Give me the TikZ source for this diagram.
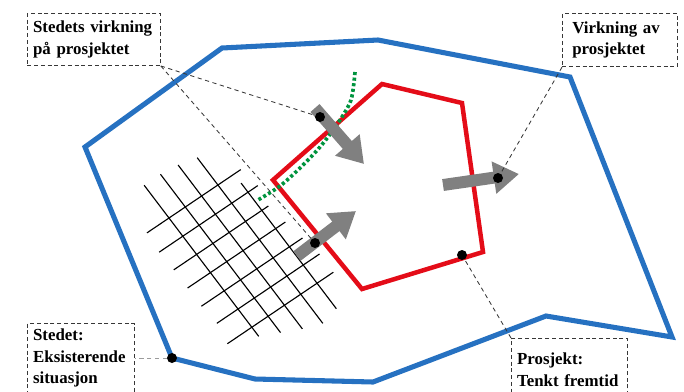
\documentclass[tikz,border=0pt]{standalone}
\usepackage{fontspec}
\setmainfont{Liberation Serif}
\usetikzlibrary{arrows.meta,calc}

\definecolor{siteblue}{RGB}{38,113,193}
\definecolor{projred}{RGB}{228,12,24}
\definecolor{edgegreen}{RGB}{0,148,62}
\definecolor{effectgray}{RGB}{128,128,128}
\definecolor{framegray}{RGB}{55,55,55}

\tikzset{
	labelbox/.style={draw=framegray, dash pattern=on 2.8pt off 2pt, line width=0.7pt,
		anchor=north west, align=left, inner xsep=4pt, inner ysep=4pt,
		font=\fontsize{12}{15.3}\selectfont\bfseries},
	leader/.style={framegray, line width=0.6pt, dash pattern=on 3pt off 2.5pt},
	effect/.style={effectgray, line width=8.5pt, -{Triangle[width=22pt,length=18pt]}},
	pin/.style={circle, fill=black, inner sep=0pt, minimum size=0.25cm},
	siteline/.style={siteblue, line width=3.6pt},
	projline/.style={projred, line width=3.2pt},
	gridline/.style={black, line width=0.8pt},
}

\begin{document}
\begin{tikzpicture}[x=0.025cm, y=-0.025cm]
	\useasboundingbox (0,0) rectangle (684,391);

	% Existing street grid (rotated, uneven ends)
	\begin{scope}[shift={(169,218)}, x={(0.4075cm,0.275cm)}, y={(0.345cm,-0.455cm)}]
		\foreach \i/\sa/\sb in {0/-1.8/6.5, 1/-1.8/6.9, 2/-1.7/7.3, 3/-1.5/7.6, 4/0.5/7.4} {
			\draw[gridline] (\i,\sa) -- (\i,\sb);
		}
		\foreach \j/\ta/\tb in {0/-1.35/4.4, 1/-1.45/4.6, 2/-1.4/4.4, 3/-1.4/4.6, 4/-1.4/4.8, 5/-1.3/5.0, 6/-1.5/5.0} {
			\draw[gridline] (\ta,\j) -- (\tb,\j);
		}
	\end{scope}

	% Site boundary
	\draw[siteline] (85,147) -- (222,48) -- (378,40) -- (570,77) -- (672,337) -- (546,316)
		-- (373,382) -- (255,379) -- (172,358) -- cycle;

	% Project boundary
	\draw[projline] (273,180) -- (382,84) -- (462,103) -- (483,252) -- (362,289) -- cycle;

	% Edge of influence
	\draw[edgegreen, line width=2.6pt, dash pattern=on 2.2pt off 1.8pt]
		plot[smooth] coordinates {(355,72) (351,100) (338,123) (320,147) (300,168) (280,186) (258,200)};

	% Effects
	\coordinate (inA) at (315,108);
	\coordinate (inAend) at (364,164);
	\coordinate (inB) at (297,256);
	\coordinate (inBend) at (356,211);
	\coordinate (outC) at (443,185);
	\coordinate (outCend) at (519,174);
	\draw[effect] (inA) -- (inAend);
	\draw[effect] (inB) -- (inBend);
	\draw[effect] (outC) -- (outCend);

	% Points that the labels refer to
	\node[pin] (pinA) at (320,117) {};
	\node[pin] (pinB) at (315,243) {};
	\node[pin] (pinC) at (498,178) {};
	\node[pin] (pinD) at (462,255) {};
	\node[pin] (pinE) at (172,358) {};

	% Labels
	\node[labelbox, text width=3.04cm, minimum height=1.3cm] (siteeffect) at (27,13)
		{Stedets virkning\\på prosjektet};
	\node[labelbox, inner xsep=7pt, text width=2.38cm, minimum height=1.33cm] (projeffect) at (562,13)
		{Virkning av\\prosjektet};
	\node[labelbox, text width=2.39cm] (site) at (27,323)
		{Stedet:\\Eksisterende\\situasjon};
	\node[labelbox, text width=2.62cm, minimum height=1.55cm] (project) at (511,338)
		{Prosjekt:\\Tenkt fremtid};

	% Leader lines
	\draw[leader] (siteeffect.south east) -- (pinA);
	\draw[leader] (siteeffect.south east) -- (pinB);
	\draw[leader] (projeffect.south west) -- (pinC);
	\draw[leader] (project.north west) -- (pinD);
	\draw[leader, framegray!50] (pinE) -- (pinE -| site.east);
\end{tikzpicture}
\end{document}
